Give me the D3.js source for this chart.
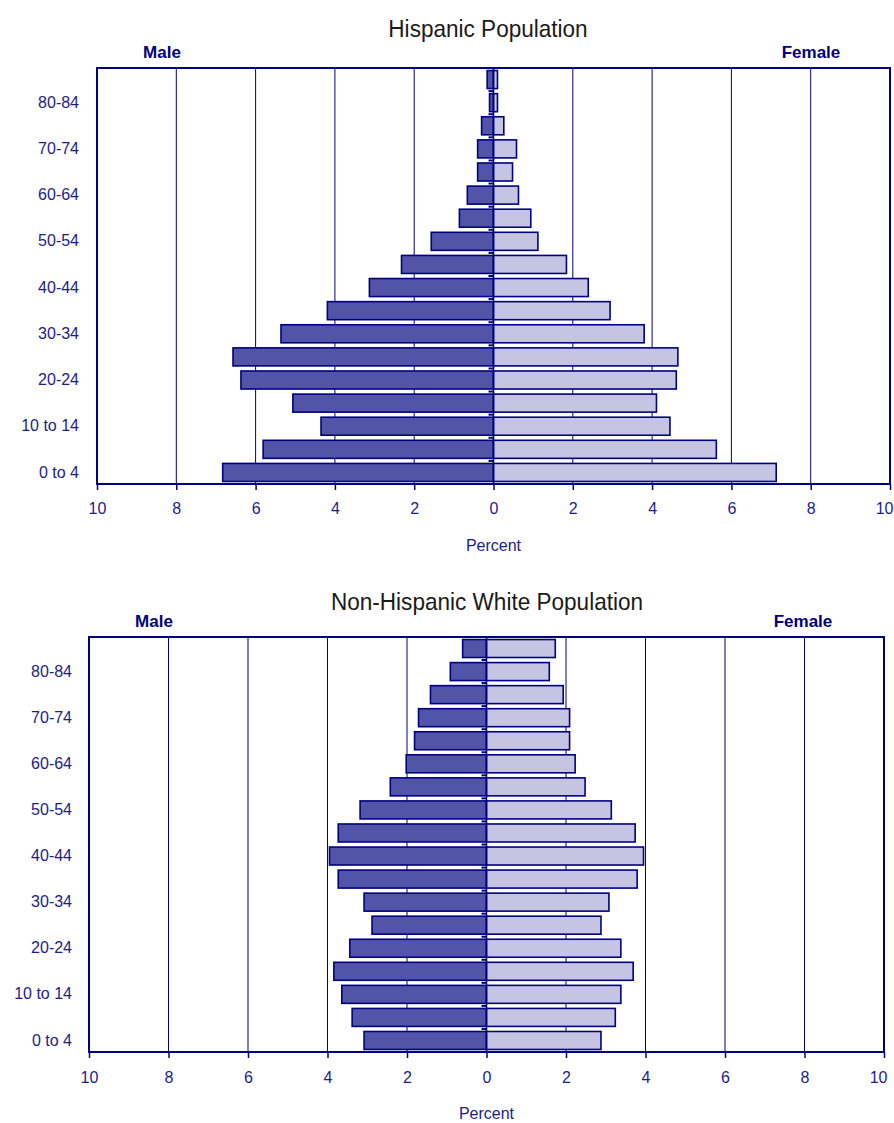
<!DOCTYPE html>
<html>
<head>
<meta charset="utf-8">
<script src="https://cdn.jsdelivr.net/npm/d3@7"></script>
<style>
  body { margin: 0; background: #fff; }
  svg { display: block; }
  text { font-family: "Liberation Sans", Arial, sans-serif; }
  .tick text { fill: #1c1c8e; font-size: 16px; }
  .tick line { stroke: #000080; }
  .domain { display: none; }
</style>
</head>
<body>
<div class="chart"></div>
<script>
// age groups, youngest first
var ageGroups = ["0 to 4", "5-9", "10 to 14", "15-19", "20-24", "25-29", "30-34", "35-39",
  "40-44", "45-49", "50-54", "55-59", "60-64", "65-69", "70-74", "75-79", "80-84", "85+"];

// percent of population
var hispMale   = [6.83, 5.81, 4.35, 5.06, 6.37, 6.57, 5.36, 4.19, 3.13, 2.32, 1.57, 0.86, 0.66, 0.40, 0.40, 0.30, 0.10, 0.16];
var hispFemale = [7.13, 5.62, 4.45, 4.11, 4.61, 4.65, 3.80, 2.94, 2.39, 1.84, 1.12, 0.94, 0.63, 0.48, 0.58, 0.26, 0.10, 0.10];
var whiteMale   = [3.08, 3.38, 3.64, 3.84, 3.44, 2.88, 3.08, 3.73, 3.95, 3.73, 3.18, 2.42, 2.02, 1.81, 1.71, 1.41, 0.91, 0.60];
var whiteFemale = [2.88, 3.24, 3.38, 3.69, 3.38, 2.88, 3.08, 3.79, 3.95, 3.74, 3.14, 2.48, 2.23, 2.09, 2.09, 1.93, 1.58, 1.73];

var xTicks = [-10, -8, -6, -4, -2, 0, 2, 4, 6, 8, 10];

var svgWidth = 894;
var svgHeight = 1123;

var svg = d3.select(".chart")
  .append("svg")
  .attr("width", svgWidth)
  .attr("height", svgHeight);

var navy = "#000080";
var textBlue = "#1c1c8e";

function drawPyramid(title, male, female, box) {
  var g = svg.append("g");

  var x = d3.scaleLinear()
    .domain([-10, 10])
    .range([box.left, box.right]);

  var y = d3.scaleBand()
    .domain(ageGroups.slice().reverse())
    .range([box.top, box.bottom])
    .paddingInner(0.22)
    .paddingOuter(0.11);

  // vertical gridlines
  g.selectAll(".grid")
    .data(xTicks.filter(d => d != -10 && d != 10))
    .enter()
    .append("line")
    .attr("x1", d => x(d))
    .attr("x2", d => x(d))
    .attr("y1", box.top)
    .attr("y2", box.bottom)
    .attr("stroke", navy)
    .attr("stroke-width", 1);

  // male bars (left)
  g.selectAll(".male")
    .data(male)
    .enter()
    .append("rect")
    .attr("x", d => x(-d))
    .attr("y", (d, i) => y(ageGroups[i]))
    .attr("width", d => x(0) - x(-d))
    .attr("height", y.bandwidth())
    .attr("fill", "#5254a8")
    .attr("stroke", navy)
    .attr("stroke-width", 1.6);

  // female bars (right)
  g.selectAll(".female")
    .data(female)
    .enter()
    .append("rect")
    .attr("x", x(0))
    .attr("y", (d, i) => y(ageGroups[i]))
    .attr("width", d => x(d) - x(0))
    .attr("height", y.bandwidth())
    .attr("fill", "#c5c5e3")
    .attr("stroke", navy)
    .attr("stroke-width", 1.6);

  // centre axis with small ticks between the bars
  g.append("line")
    .attr("x1", x(0)).attr("x2", x(0))
    .attr("y1", box.top).attr("y2", box.bottom)
    .attr("stroke", navy)
    .attr("stroke-width", 1.5);

  var step = y.step();
  g.selectAll(".cat-tick")
    .data(d3.range(1, ageGroups.length))
    .enter()
    .append("line")
    .attr("x1", x(0) - 5)
    .attr("x2", x(0))
    .attr("y1", d => box.top + step * d)
    .attr("y2", d => box.top + step * d)
    .attr("stroke", navy)
    .attr("stroke-width", 2);

  // plot frame
  g.append("rect")
    .attr("x", box.left)
    .attr("y", box.top)
    .attr("width", box.right - box.left)
    .attr("height", box.bottom - box.top)
    .attr("fill", "none")
    .attr("stroke", navy)
    .attr("stroke-width", 2);

  // bottom axis
  var bottomAxis = d3.axisBottom(x)
    .tickValues(xTicks)
    .tickFormat(d => Math.abs(d))
    .tickSize(6)
    .tickPadding(box.tickPad);

  var xAxis = g.append("g")
    .attr("transform", `translate(0, ${box.bottom})`)
    .call(bottomAxis);

  xAxis.selectAll(".tick line")
    .attr("stroke-width", 1.5);

  // last label pulled in so it stays on the page
  xAxis.selectAll(".tick text")
    .filter(d => d == 10)
    .attr("text-anchor", "end")
    .attr("x", 3);

  // age labels, every other group
  var leftAxis = d3.axisLeft(y)
    .tickValues(ageGroups.filter((d, i) => i % 2 == 0))
    .tickSize(0)
    .tickPadding(box.labelPad);

  g.append("g")
    .attr("transform", `translate(${box.left}, 0)`)
    .call(leftAxis);

  // titles
  g.append("text")
    .attr("transform", `translate(${box.titleX}, ${box.top - box.titleGap}) scale(0.94, 1)`)
    .attr("text-anchor", "middle")
    .attr("font-size", "24px")
    .attr("fill", "#1a1a1a")
    .text(title);

  g.append("text")
    .attr("x", box.maleX)
    .attr("y", box.top - 10)
    .attr("text-anchor", "middle")
    .attr("font-size", "17px")
    .attr("font-weight", "bold")
    .attr("fill", navy)
    .text("Male");

  g.append("text")
    .attr("x", box.femaleX)
    .attr("y", box.top - 10)
    .attr("text-anchor", "middle")
    .attr("font-size", "17px")
    .attr("font-weight", "bold")
    .attr("fill", navy)
    .text("Female");

  g.append("text")
    .attr("x", x(0))
    .attr("y", box.bottom + box.percentGap)
    .attr("text-anchor", "middle")
    .attr("font-size", "16px")
    .attr("fill", textBlue)
    .text("Percent");
}

drawPyramid("Hispanic Population", hispMale, hispFemale,
  {left: 97, right: 890, top: 68, bottom: 484, labelPad: 18, tickPad: 13, percentGap: 67,
   titleX: 488, titleGap: 31, maleX: 162, femaleX: 811});

drawPyramid("Non-Hispanic White Population", whiteMale, whiteFemale,
  {left: 89, right: 884, top: 637, bottom: 1052, labelPad: 17, tickPad: 14, percentGap: 67,
   titleX: 487, titleGap: 27, maleX: 154, femaleX: 803});
</script>
</body>
</html>
